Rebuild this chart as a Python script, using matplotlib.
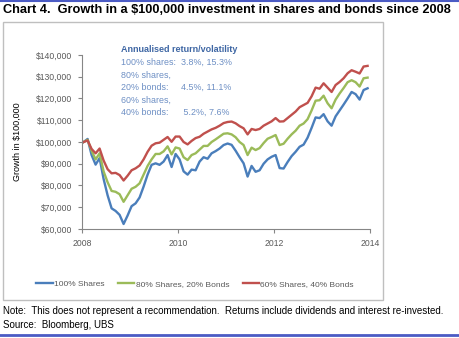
import matplotlib
matplotlib.use('Agg')
import matplotlib.pyplot as plt
from matplotlib.lines import Line2D
from matplotlib.patches import Rectangle
import numpy as np

plt.rcParams['font.family'] = ['Liberation Sans', 'DejaVu Sans']

# monthly values of a $100,000 investment, Jan 2008 - Dec 2013 ($000)
shares_100 = [100.0, 101.4, 94.0, 89.6, 92.6, 83.0, 75.5, 69.5, 68.3, 66.5,
              62.3, 66.2, 70.5, 71.8, 74.5, 79.5, 85.0, 89.5, 90.2, 89.5,
              91.0, 94.0, 88.5, 94.5, 92.0, 86.5, 85.0, 87.3, 87.0, 91.0,
              93.0, 92.3, 94.8, 95.8, 97.0, 98.6, 99.3, 98.7, 96.0, 93.0,
              90.2, 84.1, 89.0, 86.3, 87.0, 90.0, 92.0, 93.2, 94.0, 88.0,
              87.8, 90.8, 93.5, 95.5, 97.8, 98.8, 102.0, 106.5, 111.3, 111.0,
              112.8, 109.5, 107.5, 111.8, 114.5, 117.2, 120.0, 123.0, 122.0, 119.5,
              123.9, 124.7]
shares_80 = [100.0, 101.0, 96.0, 92.0, 94.8, 86.5, 81.5, 77.5, 77.1, 76.0,
             72.5, 75.5, 78.5, 79.4, 81.0, 85.0, 89.0, 92.0, 94.5, 94.5,
             95.7, 98.0, 94.3, 97.5, 97.0, 93.0, 91.7, 94.0, 94.8, 96.5,
             98.2, 98.2, 100.0, 101.2, 102.5, 103.8, 104.0, 103.5, 102.2, 100.0,
             98.6, 94.0, 97.4, 96.3, 97.2, 99.5, 101.5, 102.3, 103.2, 98.6,
             99.2, 101.5, 103.5, 105.2, 107.5, 108.5, 110.5, 114.5, 119.0, 119.2,
             121.3, 117.8, 115.5, 119.5, 122.3, 124.8, 127.5, 128.4, 127.5, 125.5,
             129.3, 129.6]
shares_60 = [100.0, 100.7, 96.8, 94.8, 97.0, 91.5, 87.5, 85.6, 85.8, 84.8,
             82.3, 84.5, 87.0, 87.9, 89.2, 92.0, 95.5, 98.3, 99.4, 99.7,
             101.0, 102.3, 100.1, 102.5, 102.5, 100.0, 98.9, 100.5, 101.8, 102.4,
             103.8, 104.8, 105.8, 106.5, 107.5, 108.7, 109.2, 109.4, 108.6, 107.3,
             106.3, 103.5, 106.0, 105.5, 106.0, 107.5, 108.5, 109.5, 111.0, 109.4,
             109.5, 111.0, 112.5, 114.0, 116.0, 117.0, 118.0, 121.0, 125.0, 124.5,
             127.0, 125.0, 123.0, 126.2, 127.6, 129.3, 131.6, 133.0, 132.3, 131.5,
             134.7, 135.0]

series_names = ['100% Shares', '80% Shares, 20% Bonds', '60% Shares, 40% Bonds']
colors = ['#4a7ebb', '#9bbb59', '#c0504d']
years = 2008 + (np.arange(len(shares_100)) + 0.4) / 12

y_ticks = np.arange(60000, 140001, 10000)
x_ticks = [2008, 2010, 2012, 2014]

fig = plt.figure(figsize=(4.6, 3.38), dpi=100)
W, H = 460, 338

# frame lines and chart box
fig.add_artist(Line2D([0, 1], [1 - 1 / H, 1 - 1 / H], color='#4b5bc4', lw=1.5))
fig.add_artist(Line2D([0, 1], [1 - 335 / H, 1 - 335 / H], color='#4b5bc4', lw=2))
fig.add_artist(Rectangle((3 / W, 1 - 300 / H), 380 / W, 278 / H, transform=fig.transFigure,
                         fill=False, edgecolor='#bfbfbf', lw=1))

fig.text(3 / W, 1 - 10 / H, 'Chart 4.  Growth in a $100,000 investment in shares and bonds since 2008',
         fontsize=9.2, fontweight='bold', va='center', ha='left')

ax = fig.add_axes([82 / W, 1 - 229 / H, 288 / W, 174 / H])
for vals, c, name in zip([shares_100, shares_80, shares_60], colors, series_names):
    ax.plot(years, np.array(vals) * 1000, color=c, lw=1.7, label=name)

ax.set_xlim(2008, 2014)
ax.set_ylim(60000, 140000)
ax.set_yticks(y_ticks)
ax.set_yticklabels(['${:,.0f}'.format(v) for v in y_ticks])
ax.set_xticks(x_ticks)
ax.set_xticklabels([str(v) for v in x_ticks])
for s in ['top', 'right']:
    ax.spines[s].set_visible(False)
for s in ['left', 'bottom']:
    ax.spines[s].set_color('#868686')
    ax.spines[s].set_linewidth(0.8)
ax.tick_params(colors='#868686', labelcolor='#595959', labelsize=6.2, length=3, width=0.8)
ax.tick_params(axis='y', pad=4)
ax.tick_params(axis='x', pad=4)
ax.set_ylabel('Growth in $100,000', fontsize=6.5, labelpad=10)

# annotation block, top line sits a little above the plot area
ax.text(0.135, 1.029, 'Annualised return/volatility', transform=ax.transAxes,
        fontsize=6.5, fontweight='bold', color='#3f67a4', va='center', clip_on=False)
ann_lines = ['100% shares:  3.8%, 15.3%', '80% shares,', '20% bonds:     4.5%, 11.1%',
             '60% shares,', '40% bonds:      5.2%, 7.6%']
for i, t in enumerate(ann_lines):
    ax.text(0.135, 1.029 - (i + 1) * 12.56 / 174, t, transform=ax.transAxes,
            fontsize=6.4, color='#6d8fc4', va='center')

handles, labels = ax.get_legend_handles_labels()
fig.legend(handles, labels, loc='center', bbox_to_anchor=(195 / W, 1 - 284 / H), ncol=3,
           frameon=False, fontsize=6, handlelength=2.0, handletextpad=0.15,
           columnspacing=1.6, labelcolor='#595959')

fig.text(3 / W, 1 - 311 / H, 'Note:  This does not represent a recommendation.  Returns include '
         'dividends and interest re-invested.', fontsize=7.0, va='center')
fig.text(3 / W, 1 - 325 / H, 'Source:  Bloomberg, UBS', fontsize=7.0, va='center')

fig.savefig('out.png', dpi=100)
